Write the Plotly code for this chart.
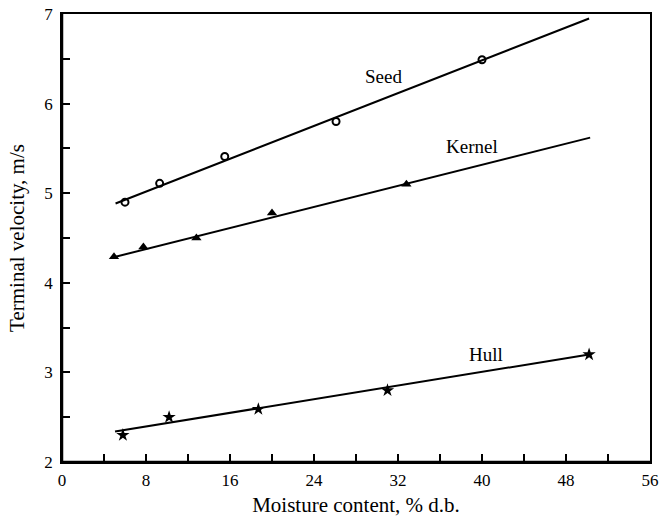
import plotly.graph_objects as go

# Measured data points
seed_x = [6.0, 9.3, 15.5, 26.1, 40.0]
seed_y = [4.90, 5.11, 5.41, 5.80, 6.49]
kernel_x = [4.95, 7.75, 12.8, 20.0, 32.8]
kernel_y = [4.29, 4.40, 4.50, 4.78, 5.10]
hull_x = [5.8, 10.2, 18.7, 31.0, 50.2]
hull_y = [2.30, 2.50, 2.59, 2.80, 3.20]

# Fitted lines (end points)
seed_fit_x = [5.1, 50.2]
seed_fit_y = [4.885, 6.95]
kernel_fit_x = [4.9, 50.3]
kernel_fit_y = [4.285, 5.62]
hull_fit_x = [5.05, 50.2]
hull_fit_y = [2.34, 3.20]

labels = ["Seed", "Kernel", "Hull"]
label_x = [30.6, 39.0, 40.4]
label_y = [6.30, 5.52, 3.20]

x_ticks = [0, 8, 16, 24, 32, 40, 48, 56]
y_ticks = [2, 3, 4, 5, 6, 7]

FONT = "Liberation Serif, Times New Roman, serif"

fig = go.Figure()
line_style = dict(color="black", width=2)
for fx, fy in [(seed_fit_x, seed_fit_y), (kernel_fit_x, kernel_fit_y), (hull_fit_x, hull_fit_y)]:
    fig.add_trace(go.Scatter(x=fx, y=fy, mode="lines", line=line_style,
                             showlegend=False, hoverinfo="skip"))

fig.add_trace(go.Scatter(x=seed_x, y=seed_y, mode="markers", name="Seed",
                         marker=dict(symbol="circle-open", size=7, color="black",
                                     line=dict(width=2, color="black")),
                         showlegend=False))
fig.add_trace(go.Scatter(x=kernel_x, y=kernel_y, mode="markers", name="Kernel",
                         marker=dict(symbol="triangle-up", size=9, color="black"),
                         showlegend=False))
fig.add_trace(go.Scatter(x=hull_x, y=hull_y, mode="markers", name="Hull",
                         marker=dict(symbol="star", size=10, color="black"),
                         showlegend=False))

for t, ax_, ay_ in zip(labels, label_x, label_y):
    fig.add_annotation(x=ax_, y=ay_, text=t, showarrow=False,
                       font=dict(family=FONT, size=19, color="black"))

# heavier left/bottom frame lines
frame = [
    (0, 0, 0, 1, 2.5),
    (0, 0, 1, 0, 2.5),
]
for x0, y0, x1, y1, w in frame:
    fig.add_shape(type="line", xref="paper", yref="paper", x0=x0, y0=y0, x1=x1, y1=y1,
                  line=dict(color="black", width=w), layer="above")

fig.update_layout(
    width=660, height=519,
    margin=dict(l=62, r=10, t=14, b=57),
    paper_bgcolor="white", plot_bgcolor="white",
    font=dict(family=FONT, size=17, color="black"),
)
fig.update_xaxes(
    range=[0, 56], tickvals=x_ticks, ticks="inside", ticklen=8, tickwidth=1.5,
    tickcolor="black", showline=True, linecolor="black", linewidth=1.6, mirror=True,
    showgrid=False, zeroline=False, automargin=False,
    minor=dict(dtick=4, tick0=0, ticks="inside", ticklen=8, tickwidth=1.5, tickcolor="black", showgrid=False),
    title=dict(text="Moisture content, % d.b.", font=dict(size=21), standoff=8),
    tickfont=dict(size=17), ticklabelstandoff=2,
)
fig.update_yaxes(
    range=[2, 7], tickvals=y_ticks, ticks="inside", ticklen=8, tickwidth=1.5,
    tickcolor="black", showline=True, linecolor="black", linewidth=1.6, mirror=True,
    showgrid=False, zeroline=False, automargin=False,
    minor=dict(dtick=0.5, tick0=2, ticks="inside", ticklen=8, tickwidth=1.5, tickcolor="black", showgrid=False),
    title=dict(text="Terminal velocity, m/s", font=dict(size=21), standoff=14),
    tickfont=dict(size=17), ticklabelstandoff=4,
)

fig.write_html("out.html", config={"displayModeBar": False},
               post_script="document.body.style.margin='0';document.body.style.overflow='hidden';")
